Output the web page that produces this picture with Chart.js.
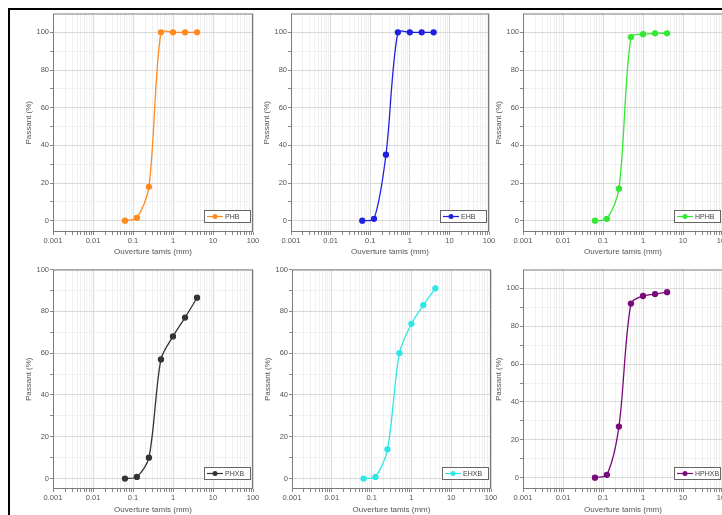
<!DOCTYPE html>
<html>
<head>
<meta charset="utf-8">
<script src="https://cdn.jsdelivr.net/npm/chart.js@4.4.1/dist/chart.umd.min.js"></script>
<style>
  html, body { margin: 0; padding: 0; background: #fff; width: 722px; height: 515px; overflow: hidden; }
  #cadre { position: absolute; left: 8px; top: 8px; width: 760px; height: 560px; border: 2px solid #000; box-sizing: border-box; }
  canvas { position: absolute; }
</style>
</head>
<body>
<div id="cadre"></div>
<canvas id="graf1"></canvas>
<canvas id="graf2"></canvas>
<canvas id="graf3"></canvas>
<canvas id="graf4"></canvas>
<canvas id="graf5"></canvas>
<canvas id="graf6"></canvas>

<script>
// ouvertures des tamis (mm)
const tamis = [0.063, 0.125, 0.25, 0.5, 1, 2, 4];

// passants cumulés (%)
const passantPHB   = [0, 1.5, 18, 100, 100, 100, 100];
const passantEHB   = [0, 1, 35, 100, 100, 100, 100];
const passantHPHB  = [0, 1, 17, 97.5, 99, 99.5, 99.5];
const passantPHXB  = [0, 0.8, 10, 57, 68, 77, 86.5];
const passantEHXB  = [0, 0.8, 14, 60, 74, 83, 91];
const passantHPHXB = [0, 1.5, 27, 92, 96, 97, 98];

const noms = ['PHB', 'EHB', 'HPHB', 'PHXB', 'EHXB', 'HPHXB'];
const couleurs = ['#ff8a1f', '#2020e0', '#33e833', '#333333', '#2ee6e6', '#7a0a7a'];

const ticksX = [0.001, 0.01, 0.1, 1, 10, 100];
const ticksY = [0, 20, 40, 60, 80, 100];

// zone de tracé de chaque panneau : gauche, haut, droite, bas
const zones = [
  [53, 13, 253, 232],
  [291, 13, 489, 232],
  [523, 13, 723, 232],
  [53, 269, 253, 489],
  [292, 269, 491, 489],
  [523, 269, 723, 489]
];
const minY = [-6, -6, -6, -5, -5, -6];
const maxY = [110, 110, 110, 100, 100, 110];

const police = '"Liberation Sans", Arial, sans-serif';

function estDecade(v) {
  const l = Math.log10(v);
  return Math.abs(l - Math.round(l)) < 1e-9;
}

const cadrePlugin = {
  id: 'cadre',
  afterDraw(chart) {
    const a = chart.chartArea, ctx = chart.ctx;
    ctx.save();
    ctx.strokeStyle = '#7a7a7a';
    ctx.lineWidth = 1;
    ctx.strokeRect(a.left + 0.5, a.top + 0.5, a.width - 1, a.height - 1);

    // petite légende en bas à droite
    const ds = chart.data.datasets[0];
    const w = 46, h = 12;
    const x = a.right - w - 3, y = a.bottom - h - 10;
    ctx.fillStyle = '#fff';
    ctx.fillRect(x, y, w, h);
    ctx.strokeStyle = '#666';
    ctx.strokeRect(x + 0.5, y + 0.5, w, h);
    ctx.strokeStyle = ds.borderColor;
    ctx.lineWidth = 1.2;
    ctx.beginPath();
    ctx.moveTo(x + 3, y + h / 2 + 0.5);
    ctx.lineTo(x + 19, y + h / 2 + 0.5);
    ctx.stroke();
    ctx.fillStyle = ds.pointBackgroundColor;
    ctx.beginPath();
    ctx.arc(x + 11, y + h / 2 + 0.5, 2.5, 0, 2 * Math.PI);
    ctx.fill();
    ctx.fillStyle = '#444';
    ctx.font = '7px ' + police;
    ctx.textBaseline = 'middle';
    ctx.fillText(ds.label, x + 21, y + h / 2 + 1);
    ctx.restore();
  }
};

function creerGraphe(i, passant) {
  const [L, T, R, B] = zones[i];
  const hautX = i < 3 ? 26 : 27;
  const canvas = document.getElementById('graf' + (i + 1));
  canvas.width = (R - L) + 40;
  canvas.height = (B - T) + 5 + hautX;
  canvas.style.left = (L - 30) + 'px';
  canvas.style.top = (T - 5) + 'px';

  new Chart(canvas, {
    type: 'line',
    data: {
      datasets: [{
        label: noms[i],
        data: tamis.map((t, k) => ({ x: t, y: passant[k] })),
        borderColor: couleurs[i],
        backgroundColor: couleurs[i],
        pointBackgroundColor: couleurs[i],
        pointBorderColor: couleurs[i],
        pointRadius: 2.5,
        borderWidth: 1.3,
        tension: 0.3,
        fill: false
      }]
    },
    options: {
      responsive: false,
      animation: false,
      layout: { padding: { left: 0, top: 5, right: 10, bottom: 0 } },
      scales: {
        x: {
          type: 'logarithmic',
          min: 0.001,
          max: 100,
          afterBuildTicks: scale => {
            const t = [];
            ticksX.slice(0, -1).forEach(d => {
              t.push({ value: d });
              for (let k = 2; k <= 9; k++) t.push({ value: d * k });
            });
            t.push({ value: 100 });
            scale.ticks = t;
          },
          afterFit: scale => { scale.height = hautX; },
          ticks: {
            autoSkip: false,
            maxRotation: 0,
            padding: 1,
            color: '#555',
            font: { family: police, size: 7.5 },
            callback: v => estDecade(v) ? String(ticksX.find(d => Math.abs(d - v) < d * 1e-6)) : ''
          },
          grid: {
            color: c => (c.tick && estDecade(c.tick.value)) ? '#d9d9d9' : '#f0f0f0',
            tickColor: '#888',
            tickLength: 3
          },
          border: { display: false },
          title: {
            display: true,
            text: 'Ouverture tamis (mm)',
            color: '#555',
            padding: { top: 1, bottom: 1 },
            font: { family: police, size: 8 }
          }
        },
        y: {
          min: minY[i],
          max: maxY[i],
          afterBuildTicks: scale => {
            const t = [];
            for (let v = 0; v <= 100; v += 10) t.push({ value: v });
            scale.ticks = t;
          },
          afterFit: scale => { scale.width = 30; },
          ticks: {
            padding: 1,
            color: '#555',
            font: { family: police, size: 7.5 },
            callback: v => ticksY.includes(v) ? String(v) : ''
          },
          grid: {
            color: c => (c.tick && ticksY.includes(c.tick.value)) ? '#d9d9d9' : '#f0f0f0',
            tickColor: '#888',
            tickLength: 3
          },
          border: { display: false },
          title: {
            display: true,
            text: 'Passant (%)',
            color: '#555',
            padding: { top: 1, bottom: 1 },
            font: { family: police, size: 8 }
          }
        }
      },
      plugins: {
        legend: { display: false },
        tooltip: { enabled: false }
      }
    },
    plugins: [cadrePlugin]
  });
}

creerGraphe(0, passantPHB);
creerGraphe(1, passantEHB);
creerGraphe(2, passantHPHB);
creerGraphe(3, passantPHXB);
creerGraphe(4, passantEHXB);
creerGraphe(5, passantHPHXB);
</script>
</body>
</html>
